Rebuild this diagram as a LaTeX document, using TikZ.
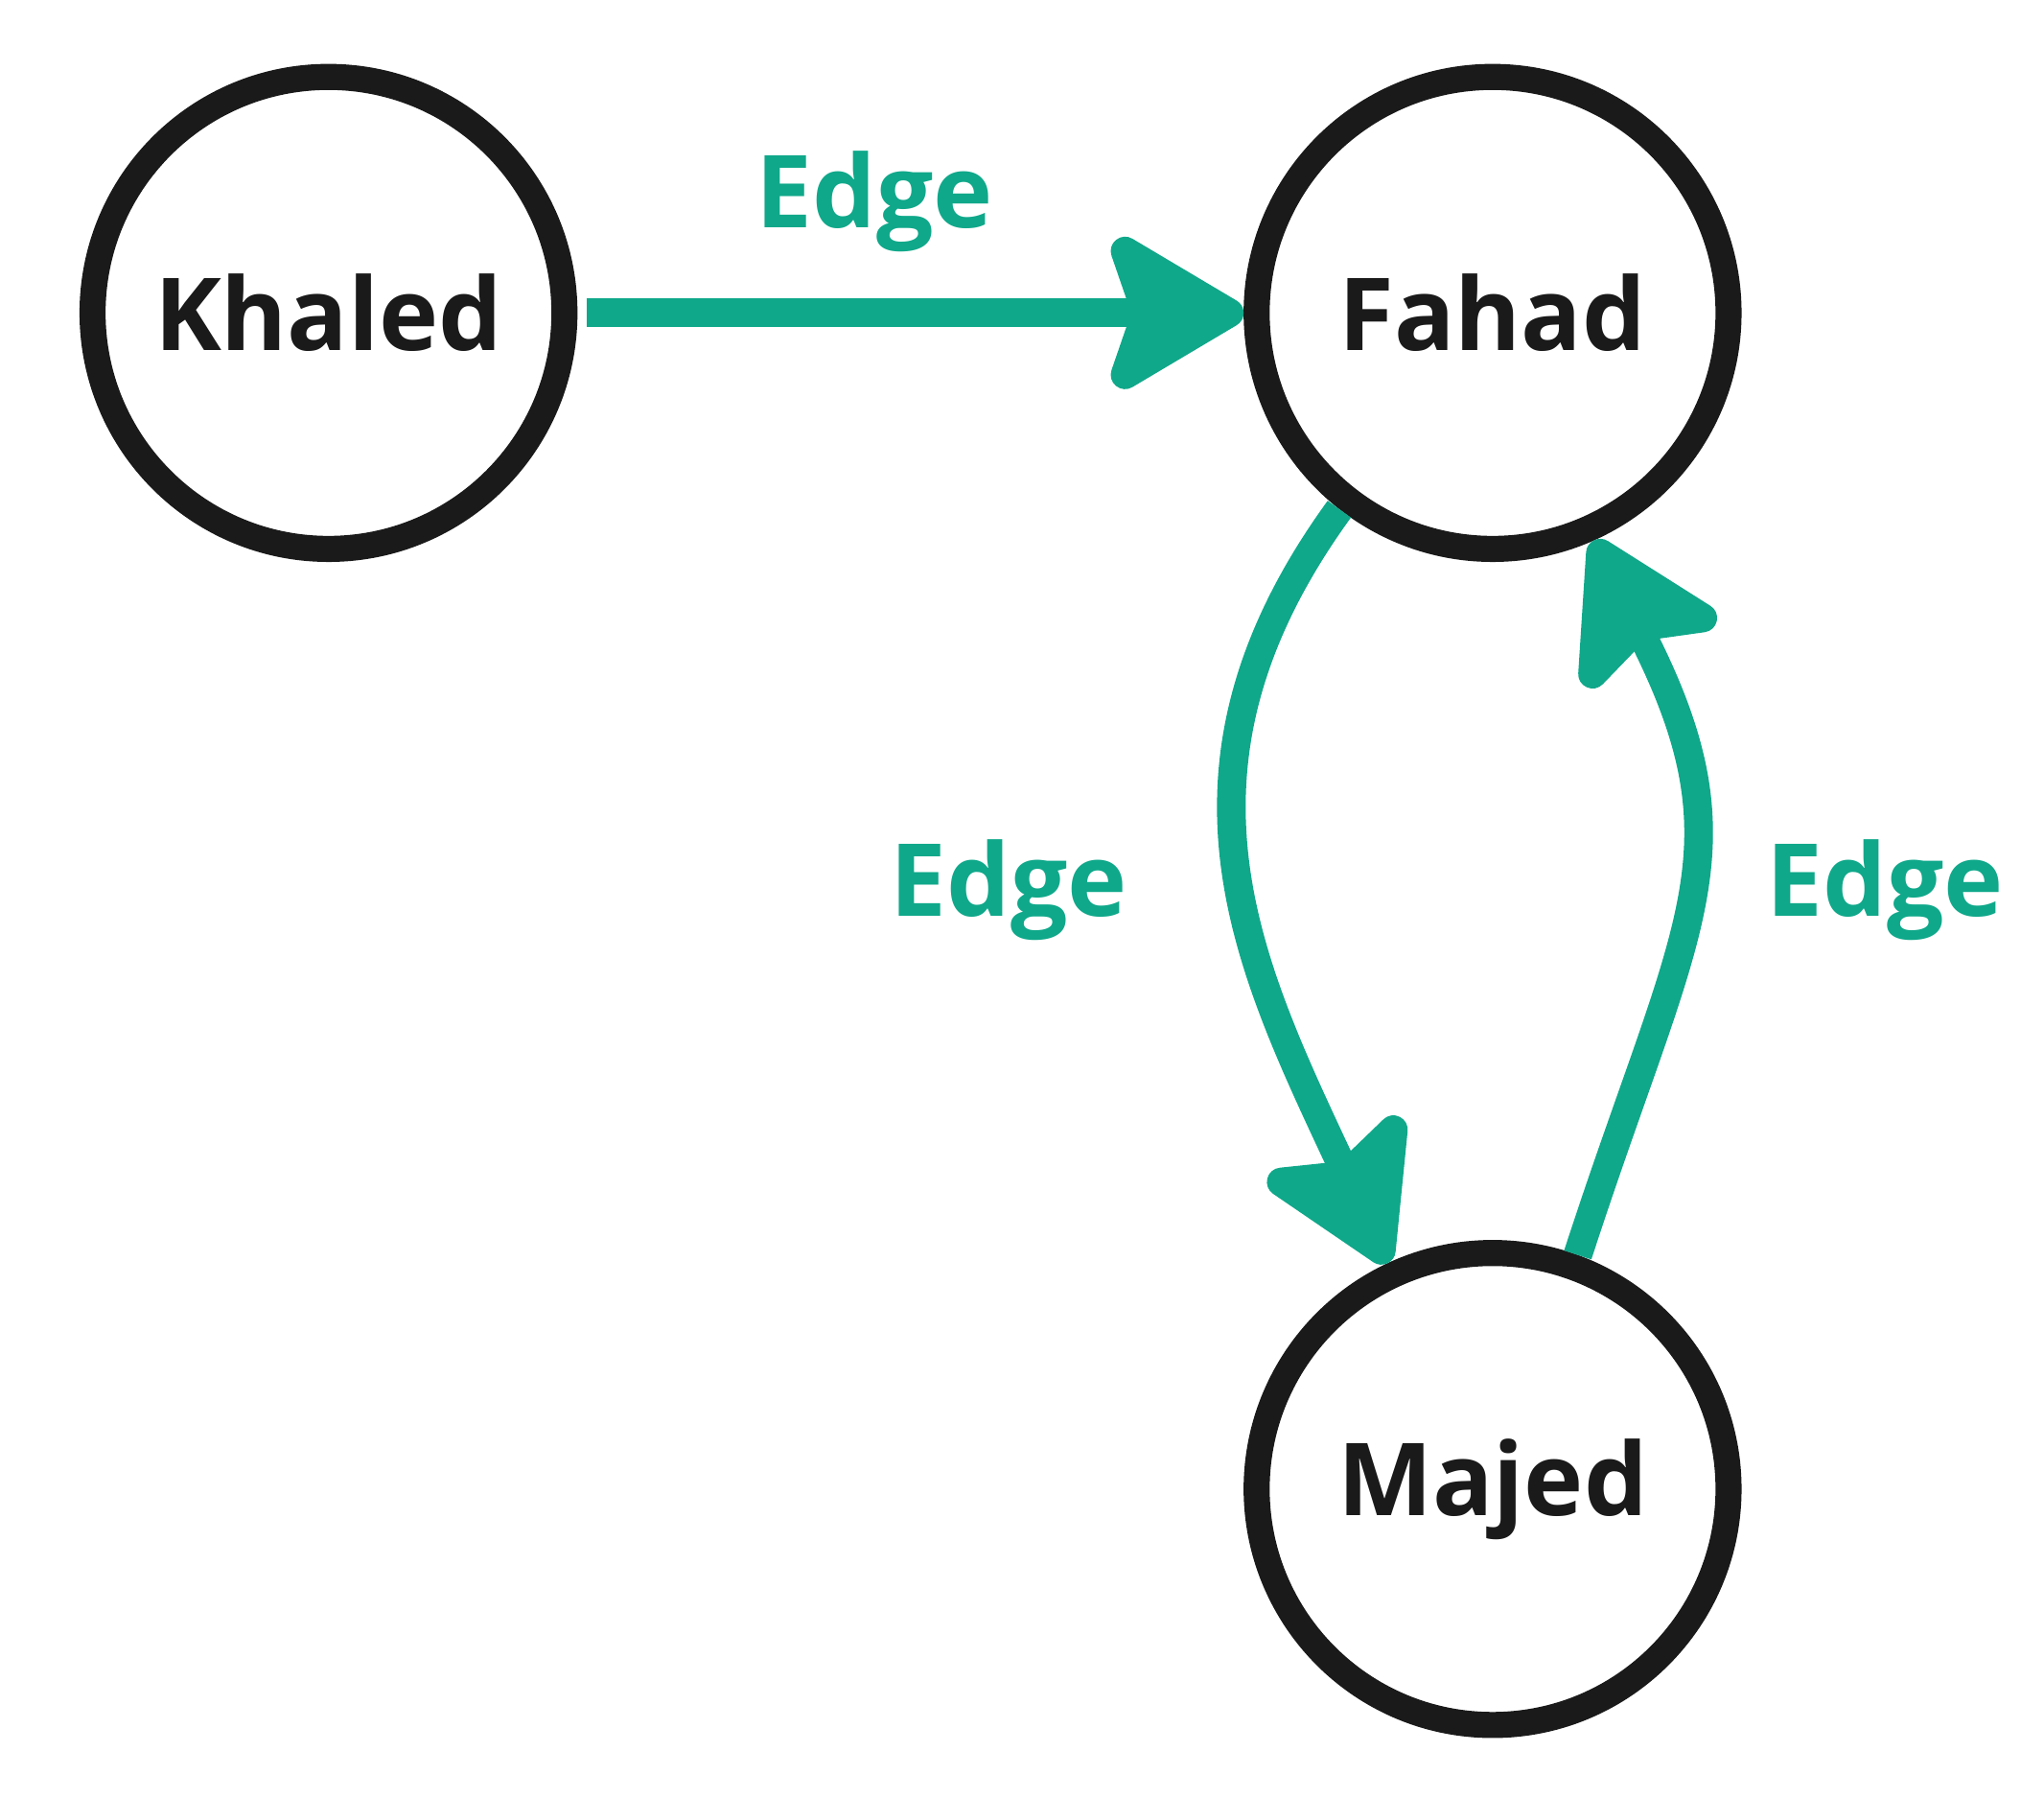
\documentclass[tikz,border=0pt]{standalone}
\usepackage{fontspec}
\setmainfont{Open Sans}
\usetikzlibrary{arrows.meta}
\definecolor{edgeteal}{HTML}{0FA88A}
\definecolor{nodeblack}{HTML}{1A1A1A}
\tikzset{
% Two styles for the graph: people and the edges between them
person node/.style={circle,draw=nodeblack,line width=2mm,minimum size=36.2mm,inner sep=0pt,text=nodeblack,font=\fontsize{22}{26}\selectfont\bfseries},
edge arrow/.style={draw=edgeteal,line width=2.2mm,-{Stealth[length=12mm,width=14mm,inset=2.3mm,round]}},
edge label/.style={text=edgeteal,anchor=base,inner sep=0pt,font=\fontsize{22}{26}\selectfont\bfseries}
}

\begin{document}
\begin{tikzpicture}[x=0.1mm,y=-0.1mm]
\useasboundingbox (0,0) rectangle (1568,1379);
% The people
\node(khaled)[person node] at (252,240){Khaled};
\node(fahad)[person node] at (1145,240){Fahad};
\node(majed)[person node] at (1145,1142){Majed};
% The edges
\draw[edge arrow,shorten <=0.7mm](khaled)--(fahad);
\draw[edge arrow](fahad.232) to[out=234,in=115,looseness=1.1] (majed.115);
\draw[edge arrow](majed.70) to[out=72,in=297,looseness=1.25] (fahad.294);
% Labels of the edges
\node(top label)[edge label] at (671,175){Edge};
\node(left label)[edge label] at (774,703){Edge};
\node(right label)[edge label] at (1446,703){Edge};
\end{tikzpicture}
\end{document}
